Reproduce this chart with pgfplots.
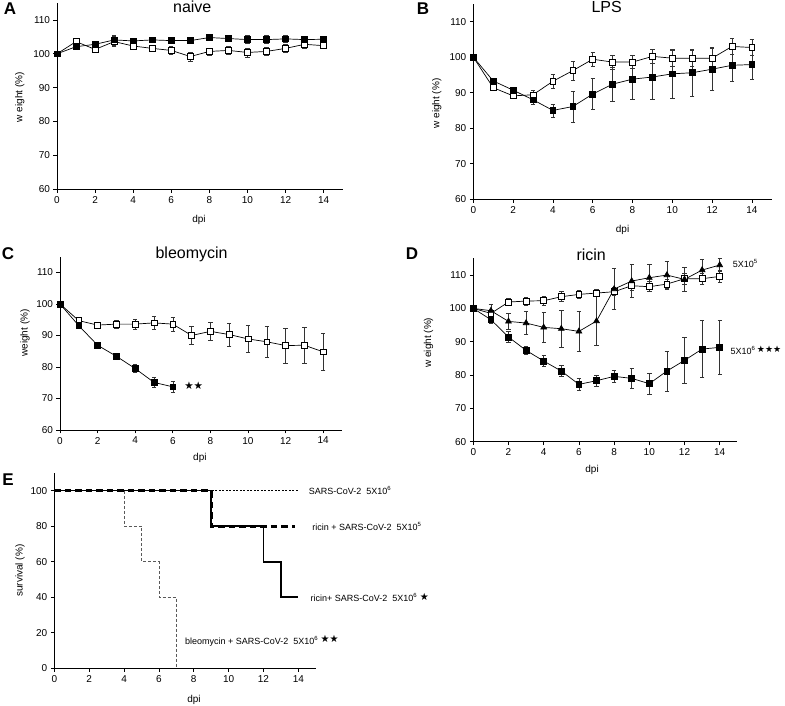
\documentclass[border=0pt]{standalone}
\usepackage{fontspec}
\setmainfont{Liberation Sans}
\newfontfamily\dejavu{DejaVu Sans}
\usepackage{pgfplots}
\pgfplotsset{compat=1.18}

\pgfplotsset{
  panel/.style={
    scale only axis, anchor=south west,
    axis lines*=left, axis line style={line width=0.8pt,-},
    xmin=0, xmax=15, ymin=60, ymax=115,
    xtick={0,2,...,14}, ytick={60,70,...,110},
    tick align=outside, tick style={black, line width=0.8pt}, major tick length=3.5pt,
    tick label style={font=\fontsize{10}{12}\selectfont},
    label style={font=\fontsize{10}{12}\selectfont},
    /pgf/number format/assume math mode=true,
    clip=false,
    xlabel={dpi},
    ylabel={w eight (\%)},
  },
  ebar/.style={error bars/.cd, y dir=both, y explicit,
    error bar style={line width=0.6pt, black!80},
    error mark options={rotate=90, mark size=2.2pt, line width=0.6pt, black!80}},
  fsq/.style={black, line width=0.7pt, mark=square*, mark size=2.9pt, mark options={fill=black, solid}, ebar},
  osq/.style={black, line width=0.7pt, mark=square*, mark size=2.9pt, mark options={fill=white, solid}, ebar},
  ftr/.style={black, line width=0.7pt, mark=triangle*, mark size=3.3pt, mark options={fill=black, solid}, ebar},
}
\newcommand{\ttl}{\fontsize{16}{18}\selectfont}
\newcommand{\lbl}{\fontsize{9}{11}\selectfont}
\newcommand{\plet}{\fontsize{17}{17}\selectfont\bfseries}
\newcommand{\stars}[1]{\raisebox{1.5pt}{\dejavu\fontsize{10}{10}\selectfont #1}}

\begin{document}
\begin{tikzpicture}
\useasboundingbox (0pt,0pt) rectangle (785pt,706pt);

% ---------- Panel A ----------
\begin{axis}[panel, at={(57pt,516.7pt)}, width=285.7pt, height=186.3pt,
  xlabel style={at={(axis description cs:0.497,-0.165)}, anchor=center},
  ylabel style={at={(axis description cs:-0.13,0.495)}, anchor=center}]
\addplot[osq] table[y error=e]{
x y e
0 100 0.3
1 103.6 0.6
2 101.3 0.8
3 103.6 1.5
4 102.3 0.8
5 101.6 1.0
6 101.0 1.2
7 99.2 1.3
8 100.7 1.0
9 101.0 1.2
10 100.4 1.3
11 100.7 1.2
12 101.6 1.2
13 102.8 1.2
14 102.4 0.8
};
\addplot[fsq] table[y error=e]{
x y e
0 100 0.3
1 102.1 0.6
2 102.8 0.6
3 104.1 1.5
4 103.8 0.6
5 104.1 0.6
6 103.9 0.5
7 103.9 0.5
8 104.8 0.6
9 104.5 0.6
10 104.2 1.2
11 104.2 1.2
12 104.4 1.0
13 104.2 1.0
14 104.3 1.0
};
\node[font=\ttl] at (axis cs:7.1,113.8) {naive};
\end{axis}
\node[font=\plet] at (10pt,697pt) {A};

% ---------- Panel B ----------
\begin{axis}[panel, at={(473.3pt,506.7pt)}, width=298.5pt, height=195.5pt,
  xlabel style={at={(axis description cs:0.5,-0.157)}, anchor=center},
  ylabel style={at={(axis description cs:-0.122,0.49)}, anchor=center}]
\addplot[osq] table[y error=e]{
x y e
0 100 0.3
1 91.4 0.6
2 89.1 0.8
3 89.4 1.2
4 93.2 2.0
5 96.2 2.6
6 99.4 2.0
7 98.6 2.0
8 98.6 1.8
9 100.2 2.0
10 99.7 2.3
11 99.7 2.3
12 99.7 3.0
13 103.0 2.3
14 102.7 2.3
};
\addplot[fsq] table[y error=e]{
x y e
0 100 0.3
1 93.3 0.6
2 90.7 0.8
3 88.0 1.3
4 85.0 1.8
5 86.1 4.4
6 89.6 4.4
7 92.4 4.8
8 93.8 5.6
9 94.4 6.4
10 95.3 6.8
11 95.6 6.7
12 96.6 6.0
13 97.7 4.6
14 97.9 4.1
};
\node[font=\ttl] at (axis cs:6.7,114) {LPS};
\end{axis}
\node[font=\plet] at (423pt,697pt) {B};

% ---------- Panel C ----------
\begin{axis}[panel, at={(60pt,276pt)}, width=282pt, height=173.3pt,
  ylabel={weight (\%)},
  xlabel style={at={(axis description cs:0.496,-0.16)}, anchor=center},
  ylabel style={at={(axis description cs:-0.124,0.56)}, anchor=center}]
\addplot[osq] table[y error=e]{
x y e
0 100 0.3
1 94.7 0.8
2 93.3 1.0
3 93.6 1.2
4 93.6 1.5
5 94.0 2.1
6 93.6 2.2
7 90.0 2.8
8 91.3 2.8
9 90.3 3.7
10 88.9 4.2
11 88.0 4.9
12 86.8 5.5
13 86.9 5.8
14 84.8 5.8
};
\addplot[fsq] table[y error=e]{
x y e
0 100 0.3
1 93.1 0.6
2 86.9 0.8
3 83.4 0.8
4 79.5 1.2
5 75.1 1.6
6 73.7 1.6
};
\node[font=\ttl] at (axis cs:7.0,115.6) {bleomycin};
\node[font=\dejavu\fontsize{10.5}{10.5}\selectfont, anchor=west, inner sep=0pt] at (axis cs:6.6,74.1) {★★};
\end{axis}
\node[font=\plet] at (8pt,452pt) {C};

% ---------- Panel D ----------
\begin{axis}[panel, at={(473.3pt,264.3pt)}, width=264pt, height=183.3pt,
  xlabel style={at={(axis description cs:0.45,-0.155)}, anchor=center},
  ylabel style={at={(axis description cs:-0.17,0.54)}, anchor=center}]
\addplot[osq] table[y error=e]{
x y e
0 100 0.3
1 98.5 0.8
2 101.9 1.0
3 102.2 1.2
4 102.3 1.3
5 103.5 1.5
6 104.2 1.2
7 104.6 1.0
8 105.0 1.2
9 106.8 1.5
10 106.5 1.5
11 107.3 1.5
12 108.9 1.6
13 108.9 1.6
14 109.6 1.7
};
\addplot[ftr] table[y error=e]{
x y e
0 100 0.3
1 99.3 2.0
2 96.1 2.3
3 95.6 3.5
4 94.3 4.4
5 93.9 5.6
6 93.1 5.9
7 96.2 7.3
8 105.8 6.2
9 108.2 4.9
10 109.2 4.1
11 110.0 4.0
12 108.7 3.5
13 111.5 3.2
14 113.0 2.0
};
\addplot[fsq] table[y error=e]{
x y e
0 100 0.3
1 96.6 1.0
2 91.4 1.7
3 87.4 1.3
4 84.2 1.6
5 81.2 1.7
6 77.2 1.7
7 78.3 1.6
8 79.6 1.7
9 79.0 2.9
10 77.4 3.2
11 81.2 6.0
12 84.4 7.0
13 87.8 8.5
14 88.3 8.0
};
\node[font=\ttl] at (axis cs:6.7,116) {ricin};
\node[font=\lbl, anchor=west] at (axis cs:14.55,113.5) {5X10\textsuperscript{5}};
\node[font=\lbl, anchor=west, inner xsep=1pt] at (axis cs:14.55,87.5) {5X10\textsuperscript{6}\,\raisebox{1.5pt}{\dejavu\fontsize{9}{9}\selectfont ★★★}};
\end{axis}
\node[font=\plet] at (412pt,452pt) {D};

% ---------- Panel E ----------
\begin{axis}[panel, at={(54.3pt,37.7pt)}, width=261.5pt, height=195.4pt,
  ymin=0, ymax=110, ytick={0,20,...,100},
  ylabel={survival (\%)},
  xlabel style={at={(axis description cs:0.534,-0.162)}, anchor=center},
  ylabel style={at={(axis description cs:-0.131,0.50)}, anchor=center}]
\addplot[const plot, black!65, line width=0.7pt, dash pattern=on 3pt off 2pt] coordinates {(0,100) (4,80) (5,60) (6,40) (7,0)};
\addplot[const plot, black, line width=0.9pt, dash pattern=on 2pt off 1.5pt] coordinates {(0,100) (14,100)};
\addplot[const plot, black, line width=1.6pt] coordinates {(0,100) (9,80) (12,60) (13,40) (14,40)};
\addplot[const plot, black, line width=3pt, dash pattern=on 6.5pt off 4pt] coordinates {(0,100) (9,80) (13.8,80)};
\node[font=\lbl, anchor=west] at (axis cs:14.4,100) {SARS-CoV-2\ \ 5X10\textsuperscript{6}};
\node[font=\lbl, anchor=west] at (axis cs:14.6,80) {ricin + SARS-CoV-2\ \ 5X10\textsuperscript{5}};
\node[font=\lbl, anchor=west] at (axis cs:14.5,40) {ricin+ SARS-CoV-2\ \ 5X10\textsuperscript{6} \stars{★}};
\node[font=\lbl, anchor=west] at (axis cs:7.3,15.6) {bleomycin + SARS-CoV-2\ \ 5X10\textsuperscript{6} \stars{★★}};
\end{axis}
\node[font=\plet] at (8pt,226pt) {E};
\end{tikzpicture}
\end{document}
